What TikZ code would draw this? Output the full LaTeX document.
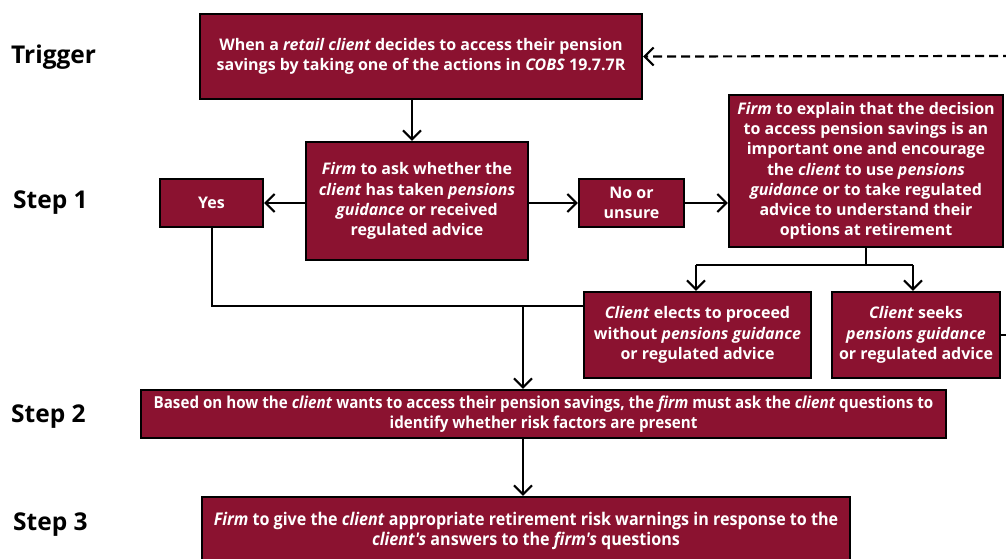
\documentclass[tikz,border=0pt]{standalone}
\usepackage{fontspec}
\setmainfont{Open Sans}
\newfontfamily\condfont[FakeStretch=0.92]{Open Sans}
\usetikzlibrary{arrows.meta,calc}
\definecolor{boxred}{RGB}{139,18,48}
\tikzset{
  box/.style={draw=black, line width=2.4pt, fill=boxred, text=white, inner sep=0pt,
    align=center, font=\bfseries\fontsize{16}{20.2}\selectfont},
  condbox/.style={box, font=\condfont\bfseries\fontsize{16.5}{20}\selectfont},
  conn/.style={line width=2pt, draw=black},
  arr/.style={conn, -{Straight Barb[length=9pt,width=18pt,line width=2pt]}},
  steplabel/.style={anchor=west, inner sep=0pt, font=\bfseries\fontsize{24.5}{28}\selectfont}
}
\begin{document}
\begin{tikzpicture}[x=1pt,y=-1pt]
\useasboundingbox (0,0) rectangle (1006,559);
\begin{scope}
\clip (0,0) rectangle (1006,559);
% labels
\node[steplabel] (lt) at (11,57) {Trigger};
\node[steplabel] (l1) at (13,203) {Step 1};
\node[steplabel] (l2) at (11,417) {Step 2};
\node[steplabel] (l3) at (13,525) {Step 3};
% boxes
\node[box, minimum width=442pt, minimum height=85pt] (trig) at (421,56.5)
  {When a \textit{retail client} decides to access their pension\\
   savings by taking one of the actions in \textit{COBS} 19.7.7R};
\node[box, minimum width=222pt, minimum height=118pt] (ask) at (417,201)
  {\textit{Firm} to ask whether the\\ \textit{client} has taken \textit{pensions}\\
   \textit{guidance} or received\\ regulated advice};
\node[box, minimum width=103pt, minimum height=48pt] (yes) at (211.5,203) {Yes};
\node[box, minimum width=105pt, minimum height=48pt] (no) at (631.5,203) {No or\\ unsure};
\node[box, minimum width=274pt, minimum height=152pt] (expl) at (866,171)
  {\textit{Firm} to explain that the decision\\ to access pension savings is an\\
   important one and encourage\\ the \textit{client} to use \textit{pensions}\\
   \textit{guidance} or to take regulated\\ advice to understand their\\ options at retirement};
\node[box, minimum width=227pt, minimum height=86pt] (elects) at (697.5,335)
  {\textit{Client} elects to proceed\\ without \textit{pensions guidance}\\ or regulated advice};
\node[box, minimum width=168pt, minimum height=86pt] (seeks) at (916,335)
  {\textit{Client} seeks\\ \textit{pensions guidance}\\ or regulated advice};
\node[condbox, minimum width=805pt, minimum height=48pt] (s2) at (543.5,414)
  {Based on how the \textit{client} wants to access their pension savings, the \textit{firm} must ask the \textit{client} questions to\\
   identify whether risk factors are present};
\node[condbox, font=\condfont\bfseries\fontsize{17.5}{20}\selectfont, minimum width=648pt, minimum height=68pt] (s3) at (526,531)
  {\textit{Firm} to give the \textit{client} appropriate retirement risk warnings in response to the\\
   \textit{client's} answers to the \textit{firm's} questions};
% helper coordinates
\coordinate (tx) at (412,0);
\coordinate (ex) at (866,265);
\coordinate (jl) at (696,265);
\coordinate (jr) at (913,265);
\coordinate (yb) at (212,306);
\coordinate (jm) at (523,306);
\coordinate (dr) at (1012,56);
\coordinate (sr) at (1012,335);
% connectors
\draw[arr, line width=2.2pt, dash pattern=on 9pt off 5pt] (dr) -- (trig.east);
\draw[arr] (trig.south -| tx) -- (ask.north -| tx);
\draw[arr] (ask.west |- yes.east) -- (yes.east);
\draw[arr] (ask.east |- no.west) -- (no.west);
\draw[arr] (no.east) -- (expl.west |- no.east);
\draw[conn] (expl.south) -- (ex);
\draw[conn] (jl) -- (jr);
\draw[arr] (jl) -- (elects.north -| jl);
\draw[arr] (jr) -- (seeks.north -| jr);
\draw[conn] (yes.south -| yb) -- (yb) -- (elects.west |- yb);
\draw[arr] (jm) -- (s2.north -| jm);
\draw[arr] (s2.south -| jm) -- (s3.north -| jm);
\draw[conn] (seeks.east) -- (sr);
\end{scope}
\end{tikzpicture}
\end{document}
